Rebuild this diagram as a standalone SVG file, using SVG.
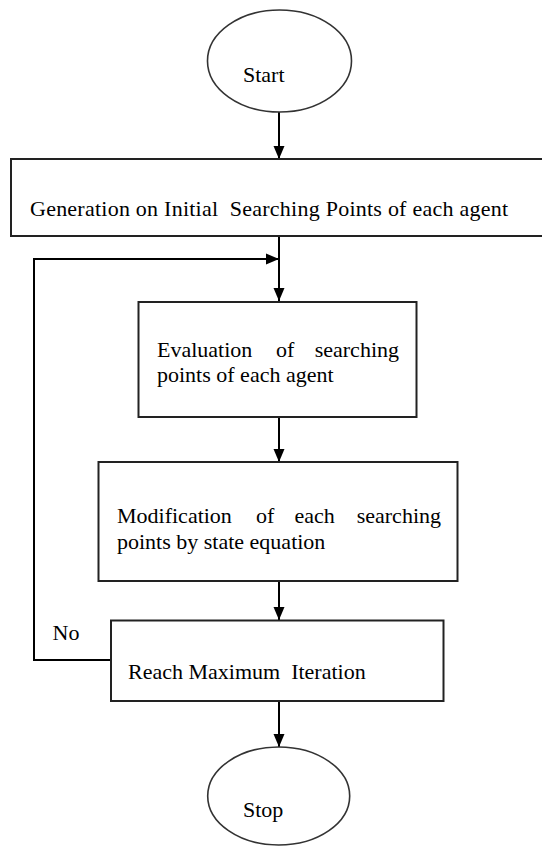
<svg xmlns="http://www.w3.org/2000/svg" width="542" height="846" viewBox="0 0 542 846">
<style>
  .box { fill: #fff; stroke: #222; stroke-width: 2; }
  .ell { fill: #fff; stroke: #333; stroke-width: 1.6; }
  text { font-family: 'Liberation Serif', 'DejaVu Serif', serif; font-size: 22px; fill: #000; }
  .con { fill: none; stroke: #000; stroke-width: 2; }
</style>
<defs>
  <marker id="arr" markerUnits="userSpaceOnUse" markerWidth="14" markerHeight="12" refX="13" refY="6" orient="auto">
    <path d="M0,0.5 L13,6 L0,11.5 z" fill="#000"/>
  </marker>
</defs>
<rect width="542" height="846" fill="#fff"/>
<g id="connectors">
  <line class="con" x1="279" y1="112" x2="279" y2="159" marker-end="url(#arr)"/>
  <line class="con" x1="279" y1="236" x2="279" y2="301" marker-end="url(#arr)"/>
  <polyline class="con" points="111,660 34,660 34,259 279,259" marker-end="url(#arr)"/>
  <line class="con" x1="279" y1="417" x2="279" y2="462" marker-end="url(#arr)"/>
  <line class="con" x1="279" y1="581" x2="279" y2="620" marker-end="url(#arr)"/>
  <line class="con" x1="279" y1="701" x2="279" y2="747" marker-end="url(#arr)"/>
  <text font-family="Liberation Serif, serif" x="52.5" y="640">No</text>
</g>
<g id="start">
  <ellipse class="ell" cx="279.5" cy="61" rx="72" ry="51"/>
  <text font-family="Liberation Serif, serif" x="243" y="82">Start</text>
</g>
<g id="generation">
  <rect class="box" x="11" y="159" width="540" height="77"/>
  <text font-family="Liberation Serif, serif" x="30" y="216" textLength="478" lengthAdjust="spacing" xml:space="preserve">Generation on Initial  Searching Points of each agent</text>
</g>
<g id="evaluation">
  <rect class="box" x="138.5" y="302" width="278" height="115"/>
  <text font-family="Liberation Serif, serif" x="157" y="357">Evaluation</text>
  <text font-family="Liberation Serif, serif" x="276" y="357">of</text>
  <text font-family="Liberation Serif, serif" x="399" y="357" text-anchor="end">searching</text>
  <text font-family="Liberation Serif, serif" x="157" y="382">points of each agent</text>
</g>
<g id="modification">
  <rect class="box" x="98.5" y="462" width="359" height="119"/>
  <text font-family="Liberation Serif, serif" x="117" y="523">Modification</text>
  <text font-family="Liberation Serif, serif" x="256" y="523">of</text>
  <text font-family="Liberation Serif, serif" x="294.5" y="523">each</text>
  <text font-family="Liberation Serif, serif" x="441" y="523" text-anchor="end">searching</text>
  <text font-family="Liberation Serif, serif" x="117" y="549">points by state equation</text>
</g>
<g id="reach">
  <rect class="box" x="111" y="620.5" width="332.5" height="80.5"/>
  <text font-family="Liberation Serif, serif" x="128" y="679" xml:space="preserve">Reach Maximum  Iteration</text>
</g>
<g id="stop">
  <ellipse class="ell" cx="278.7" cy="796" rx="71" ry="49"/>
  <text font-family="Liberation Serif, serif" x="243" y="817">Stop</text>
</g>
</svg>
